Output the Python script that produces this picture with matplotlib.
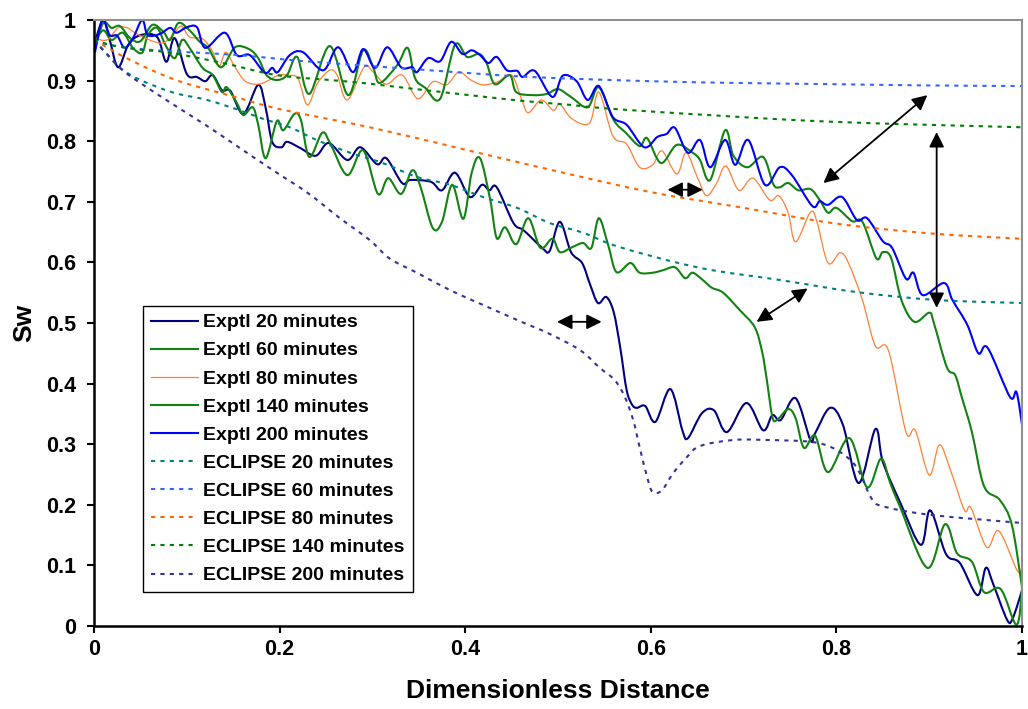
import numpy as np
import matplotlib
matplotlib.use("Agg")
import matplotlib.pyplot as plt
from matplotlib.path import Path
from matplotlib.patches import PathPatch
from matplotlib.lines import Line2D

plt.rcParams['font.family'] = ['Liberation Sans', 'DejaVu Sans']
plt.rcParams['font.weight'] = 'bold'

x20 = [0.001, 0.010, 0.017, 0.026, 0.037, 0.050, 0.068, 0.078, 0.087, 0.100, 0.111, 0.120, 0.128, 0.138,
       0.147, 0.161, 0.177, 0.185, 0.192, 0.202, 0.208, 0.222, 0.239, 0.253, 0.273, 0.287, 0.305, 0.315,
       0.332, 0.341, 0.363, 0.375, 0.389, 0.405, 0.418, 0.426, 0.434, 0.452, 0.463, 0.483, 0.491, 0.502,
       0.514, 0.526, 0.534, 0.543, 0.552, 0.560, 0.567, 0.574, 0.580, 0.585, 0.594, 0.605, 0.621, 0.634,
       0.640, 0.655, 0.668, 0.682, 0.703, 0.721, 0.731, 0.740, 0.756, 0.772, 0.777, 0.793, 0.807, 0.824,
       0.842, 0.850, 0.869, 0.891, 0.901, 0.918, 0.933, 0.952, 0.961, 0.969, 0.984, 0.990, 1.0]
y20 = [0.964, 1.0, 0.967, 0.922, 0.959, 0.975, 0.972, 0.931, 0.970, 0.911, 0.906, 0.899, 0.909, 0.884,
       0.883, 0.845, 0.893, 0.855, 0.799, 0.790, 0.799, 0.789, 0.776, 0.797, 0.769, 0.790, 0.762, 0.772,
       0.731, 0.736, 0.733, 0.719, 0.748, 0.708, 0.728, 0.719, 0.724, 0.665, 0.653, 0.624, 0.619, 0.667,
       0.617, 0.599, 0.566, 0.533, 0.543, 0.518, 0.460, 0.389, 0.365, 0.360, 0.363, 0.337, 0.391, 0.323,
       0.310, 0.351, 0.356, 0.320, 0.368, 0.323, 0.348, 0.340, 0.376, 0.307, 0.318, 0.360, 0.332, 0.236,
       0.325, 0.271, 0.203, 0.134, 0.191, 0.119, 0.104, 0.051, 0.096, 0.069, 0.010, 0.013, 0.059]

x60 = [0.001, 0.010, 0.019, 0.031, 0.042, 0.052, 0.058, 0.068, 0.077, 0.087, 0.095, 0.103, 0.117, 0.128,
       0.138, 0.143, 0.154, 0.161, 0.171, 0.177, 0.185, 0.197, 0.204, 0.216, 0.223, 0.232, 0.246, 0.255,
       0.273, 0.290, 0.306, 0.317, 0.331, 0.343, 0.352, 0.365, 0.375, 0.386, 0.398, 0.407, 0.416, 0.427,
       0.434, 0.443, 0.455, 0.468, 0.481, 0.494, 0.502, 0.515, 0.527, 0.536, 0.544, 0.554, 0.563, 0.578,
       0.588, 0.602, 0.613, 0.626, 0.637, 0.645, 0.656, 0.666, 0.678, 0.696, 0.712, 0.720, 0.725, 0.731,
       0.736, 0.748, 0.756, 0.765, 0.777, 0.791, 0.814, 0.833, 0.848, 0.858, 0.869, 0.898, 0.917, 0.930,
       0.946, 0.959, 0.977, 0.994, 1.0]
y60 = [0.964, 0.983, 0.967, 0.979, 0.954, 0.946, 0.975, 0.987, 0.959, 0.937, 0.967, 0.954, 0.921, 0.909,
       0.881, 0.889, 0.863, 0.843, 0.856, 0.827, 0.772, 0.833, 0.818, 0.845, 0.835, 0.774, 0.814, 0.795,
       0.744, 0.785, 0.713, 0.739, 0.713, 0.752, 0.724, 0.657, 0.667, 0.728, 0.672, 0.748, 0.772, 0.703,
       0.640, 0.658, 0.630, 0.673, 0.624, 0.639, 0.617, 0.625, 0.632, 0.624, 0.673, 0.629, 0.584, 0.599,
       0.583, 0.583, 0.587, 0.592, 0.574, 0.583, 0.571, 0.558, 0.550, 0.521, 0.493, 0.452, 0.406, 0.345,
       0.340, 0.358, 0.343, 0.294, 0.314, 0.254, 0.310, 0.229, 0.276, 0.236, 0.195, 0.096, 0.168, 0.120,
       0.106, 0.056, 0.061, 0.002, 0.059]

x80 = [0.001, 0.014, 0.026, 0.036, 0.044, 0.060, 0.074, 0.085, 0.094, 0.103, 0.117, 0.127, 0.135, 0.142,
       0.152, 0.163, 0.177, 0.189, 0.199, 0.210, 0.220, 0.230, 0.241, 0.254, 0.262, 0.273, 0.291, 0.301,
       0.315, 0.332, 0.349, 0.365, 0.380, 0.393, 0.406, 0.419, 0.435, 0.450, 0.461, 0.468, 0.482, 0.495,
       0.502, 0.515, 0.534, 0.544, 0.559, 0.574, 0.588, 0.602, 0.612, 0.628, 0.638, 0.650, 0.660, 0.671,
       0.681, 0.695, 0.710, 0.728, 0.738, 0.748, 0.756, 0.772, 0.779, 0.791, 0.804, 0.813, 0.828, 0.842,
       0.856, 0.875, 0.885, 0.900, 0.911, 0.923, 0.938, 0.945, 0.962, 0.975, 0.995, 1.0]
y80 = [0.970, 0.967, 0.987, 0.987, 0.979, 0.967, 0.962, 0.975, 0.990, 0.972, 0.969, 0.950, 0.924, 0.947,
       0.922, 0.899, 0.894, 0.901, 0.909, 0.909, 0.903, 0.860, 0.896, 0.917, 0.909, 0.868, 0.922, 0.914,
       0.894, 0.909, 0.870, 0.898, 0.893, 0.914, 0.901, 0.893, 0.898, 0.909, 0.868, 0.847, 0.868, 0.851,
       0.861, 0.837, 0.830, 0.881, 0.809, 0.795, 0.757, 0.761, 0.784, 0.746, 0.781, 0.741, 0.710, 0.731,
       0.759, 0.719, 0.739, 0.703, 0.710, 0.682, 0.634, 0.683, 0.667, 0.599, 0.616, 0.599, 0.538, 0.462,
       0.455, 0.320, 0.323, 0.249, 0.299, 0.257, 0.191, 0.195, 0.130, 0.157, 0.091, 0.097]

x140 = [0.001, 0.010, 0.019, 0.028, 0.039, 0.050, 0.063, 0.075, 0.082, 0.091, 0.103, 0.114, 0.123, 0.137,
        0.152, 0.167, 0.177, 0.186, 0.197, 0.208, 0.219, 0.232, 0.254, 0.274, 0.290, 0.301, 0.308, 0.327,
        0.338, 0.346, 0.357, 0.373, 0.389, 0.402, 0.415, 0.423, 0.432, 0.448, 0.455, 0.473, 0.488, 0.500,
        0.514, 0.532, 0.544, 0.560, 0.573, 0.588, 0.596, 0.611, 0.628, 0.645, 0.653, 0.664, 0.680, 0.689,
        0.704, 0.721, 0.732, 0.739, 0.748, 0.759, 0.772, 0.782, 0.791, 0.800, 0.817, 0.828, 0.843, 0.850,
        0.859, 0.870, 0.884, 0.900, 0.905, 0.919, 0.928, 0.935, 0.946, 0.959, 0.976, 0.989, 1.0]
y140 = [0.952, 0.995, 0.987, 0.990, 0.970, 0.965, 0.992, 0.980, 0.967, 0.995, 0.983, 0.964, 0.954, 0.922,
        0.955, 0.952, 0.937, 0.909, 0.901, 0.909, 0.939, 0.878, 0.957, 0.876, 0.950, 0.921, 0.896, 0.926,
        0.954, 0.904, 0.888, 0.870, 0.959, 0.939, 0.944, 0.929, 0.894, 0.909, 0.881, 0.876, 0.878, 0.886,
        0.873, 0.856, 0.889, 0.835, 0.814, 0.792, 0.805, 0.764, 0.794, 0.781, 0.769, 0.736, 0.818, 0.776,
        0.757, 0.774, 0.729, 0.724, 0.731, 0.719, 0.721, 0.703, 0.682, 0.690, 0.668, 0.667, 0.607, 0.617,
        0.607, 0.538, 0.502, 0.517, 0.500, 0.427, 0.414, 0.378, 0.320, 0.231, 0.208, 0.167, 0.064]

x200 = [0.001, 0.009, 0.017, 0.025, 0.033, 0.042, 0.052, 0.058, 0.071, 0.082, 0.089, 0.100, 0.111, 0.120,
        0.141, 0.154, 0.168, 0.184, 0.192, 0.198, 0.211, 0.225, 0.247, 0.263, 0.279, 0.290, 0.303, 0.316,
        0.331, 0.343, 0.348, 0.360, 0.373, 0.385, 0.397, 0.407, 0.416, 0.425, 0.434, 0.445, 0.456, 0.462,
        0.475, 0.494, 0.505, 0.520, 0.532, 0.544, 0.559, 0.574, 0.593, 0.607, 0.617, 0.626, 0.640, 0.653,
        0.664, 0.680, 0.691, 0.705, 0.723, 0.739, 0.752, 0.774, 0.782, 0.791, 0.806, 0.822, 0.833, 0.850,
        0.860, 0.875, 0.883, 0.893, 0.916, 0.925, 0.941, 0.953, 0.963, 0.987, 0.994, 1.0]
y200 = [0.946, 1.0, 0.975, 0.974, 0.954, 0.970, 1.0, 0.975, 0.977, 0.987, 0.979, 0.988, 0.988, 0.954,
        0.979, 0.942, 0.942, 0.913, 0.921, 0.914, 0.942, 0.947, 0.917, 0.955, 0.914, 0.952, 0.921, 0.955,
        0.922, 0.922, 0.914, 0.937, 0.932, 0.964, 0.944, 0.950, 0.942, 0.929, 0.939, 0.917, 0.916, 0.906,
        0.916, 0.873, 0.908, 0.899, 0.868, 0.891, 0.840, 0.827, 0.790, 0.807, 0.812, 0.822, 0.781, 0.802,
        0.757, 0.802, 0.761, 0.802, 0.728, 0.757, 0.744, 0.693, 0.701, 0.695, 0.708, 0.670, 0.673, 0.635,
        0.624, 0.573, 0.583, 0.546, 0.566, 0.538, 0.497, 0.450, 0.459, 0.378, 0.386, 0.332]

# ---- ECLIPSE simulation curves ----
e20_x = [0, 0.012, 0.028, 0.05, 0.086, 0.122, 0.157, 0.182, 0.211, 0.240, 0.276, 0.311, 0.348, 0.384,
         0.419, 0.456, 0.491, 0.527, 0.567, 0.653, 0.739, 0.822, 0.908, 1.0]
e20_y = [0.967, 0.947, 0.921, 0.901, 0.880, 0.868, 0.851, 0.837, 0.823, 0.802, 0.781, 0.764, 0.741, 0.728,
         0.708, 0.690, 0.665, 0.649, 0.625, 0.591, 0.571, 0.551, 0.538, 0.533]
e60_x = [0, 0.02, 0.05, 0.1, 0.157, 0.211, 0.254, 0.362, 0.47, 0.6, 0.7, 0.8, 0.9, 1.0]
e60_y = [0.967, 0.958, 0.952, 0.947, 0.942, 0.934, 0.929, 0.917, 0.906, 0.899, 0.896, 0.894, 0.892, 0.891]
e80_x = [0, 0.015, 0.03, 0.05, 0.07, 0.1, 0.15, 0.2, 0.3, 0.4, 0.5, 0.6, 0.7, 0.8, 0.9, 1.0]
e80_y = [0.967, 0.954, 0.941, 0.926, 0.912, 0.895, 0.874, 0.853, 0.822, 0.786, 0.750, 0.716, 0.690, 0.664,
         0.648, 0.639]
e140_x = [0, 0.02, 0.05, 0.082, 0.139, 0.197, 0.254, 0.29, 0.341, 0.434, 0.473, 0.513, 0.545, 0.61, 0.675,
          0.753, 0.833, 0.9, 1.0]
e140_y = [0.967, 0.958, 0.951, 0.946, 0.929, 0.909, 0.901, 0.896, 0.887, 0.871, 0.865, 0.860, 0.855, 0.848,
          0.842, 0.835, 0.830, 0.827, 0.823]
e200_x = [0, 0.012, 0.031, 0.050, 0.085, 0.122, 0.157, 0.193, 0.230, 0.265, 0.297, 0.319, 0.348, 0.384,
          0.419, 0.456, 0.491, 0.524, 0.545, 0.561, 0.572, 0.581, 0.588, 0.596, 0.602, 0.612, 0.624, 0.639,
          0.653, 0.689, 0.725, 0.772, 0.796, 0.815, 0.825, 0.839, 0.854, 0.904, 1.0]
e200_y = [0.967, 0.947, 0.917, 0.896, 0.861, 0.825, 0.789, 0.752, 0.715, 0.673, 0.637, 0.606, 0.583, 0.554,
          0.530, 0.505, 0.482, 0.455, 0.426, 0.406, 0.378, 0.340, 0.295, 0.246, 0.221, 0.224, 0.252, 0.279,
          0.297, 0.307, 0.307, 0.304, 0.294, 0.274, 0.253, 0.208, 0.196, 0.183, 0.170]

series = [
    ("Exptl 20 minutes", x20, y20, '#000080', 1.5, '-'),
    ("Exptl 60 minutes", x60, y60, '#128212', 1.5, '-'),
    ("Exptl 80 minutes", x80, y80, '#FF8033', 0.9, '-'),
    ("Exptl 140 minutes", x140, y140, '#128212', 1.5, '-'),
    ("Exptl 200 minutes", x200, y200, '#0000FF', 1.5, '-'),
    ("ECLIPSE 20 minutes", e20_x, e20_y, '#008080', 1.5, (0, (2, 2.5))),
    ("ECLIPSE 60 minutes", e60_x, e60_y, '#3366FF', 1.5, (0, (2, 2.5))),
    ("ECLIPSE 80 minutes", e80_x, e80_y, '#FF6600', 1.5, (0, (2, 2.5))),
    ("ECLIPSE 140 minutes", e140_x, e140_y, '#008000', 1.5, (0, (2, 2.5))),
    ("ECLIPSE 200 minutes", e200_x, e200_y, '#333399', 1.5, (0, (2, 2.5))),
]

# double-headed arrows: (x0, y0, x1, y1)
arrows = [
    (0.499, 0.502, 0.547, 0.502),
    (0.618, 0.720, 0.656, 0.720),
    (0.714, 0.502, 0.769, 0.557),
    (0.786, 0.731, 0.898, 0.876),
    (0.908, 0.815, 0.908, 0.525),
]


def smooth_curve(ax, xs, ys, color, lw, ls):
    # smoothed line through the points (Catmull-Rom as Bezier), like Excel
    p = np.column_stack([xs, ys])
    n = len(p)
    verts = [p[0]]
    codes = [Path.MOVETO]
    for i in range(n - 1):
        p0 = p[i - 1] if i > 0 else p[i]
        p3 = p[i + 2] if i + 2 < n else p[i + 1]
        verts += [p[i] + (p[i + 1] - p0) / 6, p[i + 1] - (p3 - p[i]) / 6, p[i + 1]]
        codes += [Path.CURVE4] * 3
    ax.add_patch(PathPatch(Path(verts, codes), fill=False, edgecolor=color, lw=lw,
                           linestyle=ls, capstyle='butt', joinstyle='round'))


fig = plt.figure(figsize=(10.28, 7.09), dpi=100)
ax = fig.add_axes([0.0914, 0.117, 0.9028, 0.8548])

handles = []
for name, xs, ys, c, lw, ls in series:
    smooth_curve(ax, xs, ys, c, lw, ls)
    handles.append(Line2D([], [], color=c, lw=lw, ls=ls, label=name))

for x0, y0, x1, y1 in arrows:
    ax.annotate('', xy=(x1, y1), xytext=(x0, y0),
                arrowprops=dict(arrowstyle='<|-|>,head_length=0.6,head_width=0.3',
                                color='black', lw=1.3, mutation_scale=15,
                                shrinkA=0, shrinkB=0))

ax.set_xlim(0, 1)
ax.set_ylim(0, 1)
ax.set_xticks(np.arange(0, 1.01, 0.2))
ax.set_xticklabels(['0', '0.2', '0.4', '0.6', '0.8', '1'])
ax.set_yticks(np.arange(0, 1.01, 0.1))
ax.set_yticklabels(['0', '0.1', '0.2', '0.3', '0.4', '0.5', '0.6', '0.7', '0.8', '0.9', '1'])
ax.tick_params(labelsize=15.5, length=5, width=1.5, direction='out')
ax.tick_params(axis='x', pad=4)
ax.tick_params(axis='y', pad=8)
for s in ['left', 'bottom']:
    ax.spines[s].set_linewidth(1.8)
    ax.spines[s].set_color('black')
for s in ['top', 'right']:
    ax.spines[s].set_linewidth(1.5)
    ax.spines[s].set_color('#909090')

ax.set_xlabel('Dimensionless Distance', fontsize=19, fontweight='bold', labelpad=14)
ax.set_ylabel('Sw', fontsize=19, fontweight='bold', labelpad=7)

leg = ax.legend(handles=handles, loc='lower left', bbox_to_anchor=(0.053, 0.056),
                borderaxespad=0, prop={'weight': 'bold', 'size': 14}, frameon=True,
                fancybox=False, edgecolor='black', framealpha=1, handlelength=2.4,
                handletextpad=0.3, labelspacing=0.54, borderpad=0.4)
leg.get_frame().set_linewidth(1.0)

fig.savefig('out.png', dpi=100)
